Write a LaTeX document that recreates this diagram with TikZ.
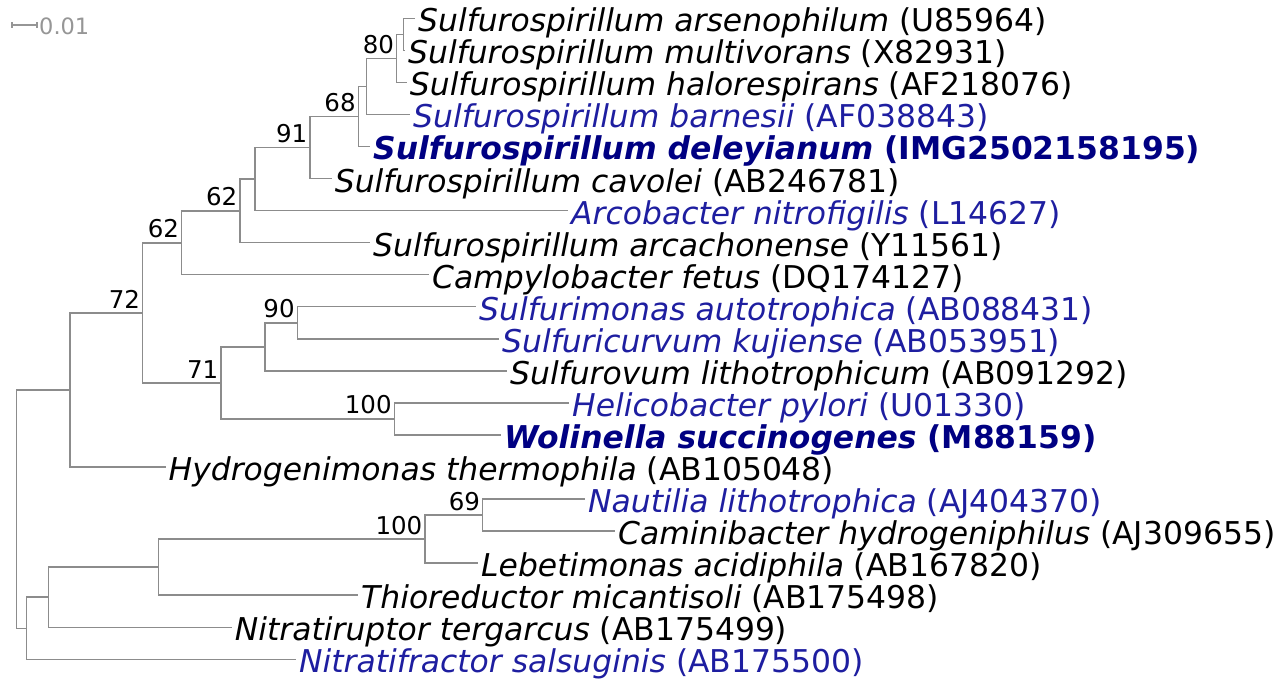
\documentclass[tikz,border=0pt]{standalone}
\usepackage{fontspec}
\setmainfont{DejaVu Sans}
\definecolor{tline}{RGB}{140,140,140}
\definecolor{tblue}{RGB}{30,30,160}
\definecolor{tbblue}{RGB}{0,0,130}
\definecolor{tscale}{RGB}{150,150,150}
\begin{document}
\begin{tikzpicture}[x=1pt,y=-1pt,
  branch/.style={draw=tline, line width=1.5pt},
  leaf/.style={anchor=base west, inner sep=0pt, xshift=3pt, yshift=-13.5pt, font=\fontsize{31.4}{32}\selectfont},
  typeleaf/.style={leaf, text=tblue},
  boldleaf/.style={leaf, text=tbblue, font=\fontsize{31.4}{32}\selectfont\bfseries},
  boot/.style={anchor=south east, inner sep=0pt, xshift=-2.5pt, yshift=4.5pt, font=\fontsize{24.5}{25}\selectfont},
  scalebar/.style={draw=tscale, line width=1.2pt},
]
\useasboundingbox (0,0) rectangle (1278,679);

% internal nodes
\coordinate (n80a) at (403.3,34.3);
\coordinate (n80) at (396.7,58.4);
\coordinate (nA) at (366.7,86.4);
\coordinate (n68) at (358.3,116.5);
\coordinate (n91) at (310,147.5);
\coordinate (nB) at (255,179);
\coordinate (n62a) at (240,210.8);
\coordinate (n62b) at (181.7,242.8);
\coordinate (n90) at (297.3,322.8);
\coordinate (nC) at (265,346.8);
\coordinate (n100a) at (394.3,418.9);
\coordinate (n71) at (221,382.9);
\coordinate (n72) at (142.7,312.8);
\coordinate (nD) at (70,389.9);
\coordinate (n69) at (482.7,515.1);
\coordinate (n100b) at (425,539.1);
\coordinate (nE) at (158.3,567.2);
\coordinate (nF) at (48.3,597.2);
\coordinate (nG) at (26.7,628.3);
\coordinate (root) at (16.7,509.1);

% leaf ends
\coordinate (e0) at (415,18.3);
\coordinate (e1) at (405,50.35);
\coordinate (e2) at (406.7,82.4);
\coordinate (e3) at (410,114.45);
\coordinate (e4) at (370,146.5);
\coordinate (e5) at (331.7,178.55);
\coordinate (e6) at (568,210.6);
\coordinate (e7) at (370,242.65);
\coordinate (e8) at (429,274.7);
\coordinate (e9) at (476,306.75);
\coordinate (e10) at (499,338.8);
\coordinate (e11) at (507,370.85);
\coordinate (e12) at (569,402.9);
\coordinate (e13) at (501,434.95);
\coordinate (e14) at (165.5,467);
\coordinate (e15) at (585,499.05);
\coordinate (e16) at (615,531.1);
\coordinate (e17) at (478,563.15);
\coordinate (e18) at (358,595.2);
\coordinate (e19) at (231.7,627.25);
\coordinate (e20) at (296,659.3);

% branches
\draw[branch] (n80a) |- (e0);
\draw[branch] (n80a) |- (e1);
\draw[branch] (n80) |- (n80a);
\draw[branch] (n80) |- (e2);
\draw[branch] (nA) |- (n80);
\draw[branch] (nA) |- (e3);
\draw[branch] (n68) |- (nA);
\draw[branch] (n68) |- (e4);
\draw[branch] (n91) |- (n68);
\draw[branch] (n91) |- (e5);
\draw[branch] (nB) |- (n91);
\draw[branch] (nB) |- (e6);
\draw[branch] (n62a) |- (nB);
\draw[branch] (n62a) |- (e7);
\draw[branch] (n62b) |- (n62a);
\draw[branch] (n62b) |- (e8);
\draw[branch] (n90) |- (e9);
\draw[branch] (n90) |- (e10);
\draw[branch] (nC) |- (n90);
\draw[branch] (nC) |- (e11);
\draw[branch] (n100a) |- (e12);
\draw[branch] (n100a) |- (e13);
\draw[branch] (n71) |- (nC);
\draw[branch] (n71) |- (n100a);
\draw[branch] (n72) |- (n62b);
\draw[branch] (n72) |- (n71);
\draw[branch] (nD) |- (n72);
\draw[branch] (nD) |- (e14);
\draw[branch] (n69) |- (e15);
\draw[branch] (n69) |- (e16);
\draw[branch] (n100b) |- (n69);
\draw[branch] (n100b) |- (e17);
\draw[branch] (nE) |- (n100b);
\draw[branch] (nE) |- (e18);
\draw[branch] (nF) |- (nE);
\draw[branch] (nF) |- (e19);
\draw[branch] (nG) |- (nF);
\draw[branch] (nG) |- (e20);
\draw[branch] (root) |- (nD);
\draw[branch] (root) |- (nG);

% leaf labels
\node[leaf] (t0) at (e0) {\textit{Sulfurospirillum arsenophilum} (U85964)};
\node[leaf] (t1) at (e1) {\textit{Sulfurospirillum multivorans} (X82931)};
\node[leaf] (t2) at (e2) {\textit{Sulfurospirillum halorespirans} (AF218076)};
\node[typeleaf] (t3) at (e3) {\textit{Sulfurospirillum barnesii} (AF038843)};
\node[boldleaf] (t4) at (e4) {\textit{Sulfurospirillum deleyianum} (IMG2502158195)};
\node[leaf] (t5) at (e5) {\textit{Sulfurospirillum cavolei} (AB246781)};
\node[typeleaf] (t6) at (e6) {\textit{Arcobacter nitrofigilis} (L14627)};
\node[leaf] (t7) at (e7) {\textit{Sulfurospirillum arcachonense} (Y11561)};
\node[leaf] (t8) at (e8) {\textit{Campylobacter fetus} (DQ174127)};
\node[typeleaf] (t9) at (e9) {\textit{Sulfurimonas autotrophica} (AB088431)};
\node[typeleaf] (t10) at (e10) {\textit{Sulfuricurvum kujiense} (AB053951)};
\node[leaf] (t11) at (e11) {\textit{Sulfurovum lithotrophicum} (AB091292)};
\node[typeleaf] (t12) at (e12) {\textit{Helicobacter pylori} (U01330)};
\node[boldleaf] (t13) at (e13) {\textit{Wolinella succinogenes} (M88159)};
\node[leaf] (t14) at (e14) {\textit{Hydrogenimonas thermophila} (AB105048)};
\node[typeleaf] (t15) at (e15) {\textit{Nautilia lithotrophica} (AJ404370)};
\node[leaf] (t16) at (e16) {\textit{Caminibacter hydrogeniphilus} (AJ309655)};
\node[leaf] (t17) at (e17) {\textit{Lebetimonas acidiphila} (AB167820)};
\node[leaf] (t18) at (e18) {\textit{Thioreductor micantisoli} (AB175498)};
\node[leaf] (t19) at (e19) {\textit{Nitratiruptor tergarcus} (AB175499)};
\node[typeleaf] (t20) at (e20) {\textit{Nitratifractor salsuginis} (AB175500)};

% bootstrap values
\node[boot] (b80) at (n80) {80};
\node[boot] (b68) at (n68) {68};
\node[boot] (b91) at (n91) {91};
\node[boot] (b62a) at (n62a) {62};
\node[boot] (b62b) at (n62b) {62};
\node[boot] (b72) at (n72) {72};
\node[boot] (b90) at (n90) {90};
\node[boot] (b71) at (n71) {71};
\node[boot] (b100a) at (n100a) {100};
\node[boot] (b100b) at (n100b) {100};
\node[boot] (b69) at (n69) {69};

% scale bar
\coordinate (sb1) at (12,25);
\coordinate (sb2) at (37,25);
\draw[scalebar] (sb1) -- (sb2);
\draw[scalebar] ([yshift=-3pt]sb1) -- ([yshift=3pt]sb1);
\draw[scalebar] ([yshift=-3pt]sb2) -- ([yshift=3pt]sb2);
\node[anchor=base west, inner sep=0pt, text=tscale, font=\fontsize{22.5}{23}\selectfont] (sblab) at (39,35) {0.01};
\end{tikzpicture}
\end{document}
